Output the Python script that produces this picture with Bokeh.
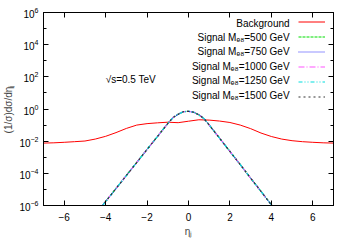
from bokeh.plotting import figure
from bokeh.models import (FixedTicker, LogAxis, LinearAxis, Legend, LegendItem,
                          Label, Range1d, ColumnDataSource)
from bokeh.core.properties import value
from bokeh.embed import file_html
from bokeh.resources import INLINE

# ---- data ----
eta_bkg = [-7.0, -6.5, -6.0, -5.5, -5.0, -4.5, -4.0, -3.5, -3.0, -2.5, -2.0, -1.5, -1.0, -0.5,
           0.0, 0.5, 1.0, 1.5, 2.0, 2.5, 3.0, 3.5, 4.0, 4.5, 5.0, 5.5, 6.0, 6.5, 7.0]
background = [7.6e-3, 7.9e-3, 8.5e-3, 9.3e-3, 1.02e-2, 1.35e-2, 2.0e-2, 3.4e-2, 6.2e-2, 0.100,
              0.123, 0.138, 0.151, 0.141, 0.174, 0.214, 0.204, 0.178, 0.145, 0.100,
              6.0e-2, 3.2e-2, 1.95e-2, 1.35e-2, 1.07e-2, 9.3e-3, 8.5e-3, 7.9e-3, 7.6e-3]

eta_sig = [-4.5, -4.0, -3.5, -3.0, -2.5, -2.0, -1.5, -1.0, -0.75, -0.5, -0.25, 0.0,
           0.25, 0.5, 0.75, 1.0, 1.5, 2.0, 2.5, 3.0, 3.5, 4.0, 4.5]
sig_500 = [2.8e-7, 1.8e-6, 1.15e-5, 7.4e-5, 4.8e-4, 3.1e-3, 1.95e-2, 0.126, 0.295, 0.468, 0.676, 0.724,
           0.631, 0.437, 0.251, 0.102, 1.55e-2, 2.3e-3, 3.5e-4, 5.1e-5, 7.6e-6, 1.12e-6, 1.66e-7]
sig_750 = [2.7e-7, 1.75e-6, 1.13e-5, 7.3e-5, 4.7e-4, 3.05e-3, 1.93e-2, 0.125, 0.294, 0.467, 0.675, 0.722,
           0.630, 0.436, 0.250, 0.101, 1.53e-2, 2.28e-3, 3.45e-4, 5.0e-5, 7.5e-6, 1.1e-6, 1.63e-7]
sig_1000 = [2.75e-7, 1.78e-6, 1.14e-5, 7.35e-5, 4.75e-4, 3.08e-3, 1.94e-2, 0.126, 0.295, 0.468, 0.676, 0.723,
            0.631, 0.437, 0.251, 0.102, 1.54e-2, 2.29e-3, 3.48e-4, 5.05e-5, 7.55e-6, 1.11e-6, 1.65e-7]
sig_1250 = [2.72e-7, 1.77e-6, 1.14e-5, 7.3e-5, 4.72e-4, 3.06e-3, 1.94e-2, 0.125, 0.294, 0.467, 0.675, 0.723,
            0.630, 0.436, 0.250, 0.101, 1.54e-2, 2.29e-3, 3.47e-4, 5.03e-5, 7.52e-6, 1.1e-6, 1.64e-7]
sig_1500 = [2.7e-7, 1.76e-6, 1.13e-5, 7.3e-5, 4.7e-4, 3.05e-3, 1.93e-2, 0.125, 0.294, 0.467, 0.675, 0.722,
            0.630, 0.436, 0.250, 0.101, 1.53e-2, 2.28e-3, 3.46e-4, 5.02e-5, 7.5e-6, 1.1e-6, 1.63e-7]

legend_labels = ["Background",
                 "Signal M\u2091\u2088=500 GeV",
                 "Signal M\u2091\u2088=750 GeV",
                 "Signal M\u2091\u2088=1000 GeV",
                 "Signal M\u2091\u2088=1250 GeV",
                 "Signal M\u2091\u2088=1500 GeV"]
x_ticks = [-6, -4, -2, 0, 2, 4, 6]
y_ticks = [1e-6, 1e-4, 1e-2, 1e0, 1e2, 1e4, 1e6]
y_minor = [1e-5, 1e-3, 1e-1, 1e1, 1e3, 1e5]

FONT = "Liberation Sans"

p = figure(frame_width=290, frame_height=193, x_range=Range1d(-7, 7), y_range=Range1d(1e-6, 1e6),
           y_axis_type="log", output_backend="svg", toolbar_location=None,
           min_border_left=35, min_border_right=9, min_border_top=12, min_border_bottom=32)
p.grid.visible = False
p.outline_line_color = "black"
p.outline_line_width = 1
p.background_fill_color = "white"
p.border_fill_color = "white"

def style_axis(ax, show_labels=True):
    ax.major_tick_in = 5
    ax.major_tick_out = 0
    ax.minor_tick_in = 3
    ax.minor_tick_out = 0
    ax.axis_line_color = "black"
    ax.major_tick_line_color = "black"
    ax.minor_tick_line_color = "black"
    ax.major_label_text_font = FONT
    ax.major_label_text_font_size = "10px" if show_labels else "1px"
    ax.major_label_text_color = "black" if show_labels else None
    ax.axis_label_text_font = FONT
    ax.axis_label_text_font_size = "10px"
    ax.axis_label_text_font_style = "normal"

p.xaxis.ticker = FixedTicker(ticks=x_ticks, minor_ticks=[])
p.yaxis.ticker = FixedTicker(ticks=y_ticks, minor_ticks=y_minor)
for ax in p.xaxis + p.yaxis:
    style_axis(ax)
p.xaxis.axis_label = "\u03b7\u2c7c"
p.yaxis.axis_label = "(1/\u03c3)d\u03c3/d\u03b7\u2c7c"
p.xaxis.major_label_standoff = 7
p.yaxis.major_label_standoff = 5
p.xaxis.axis_label_standoff = 2
p.yaxis.axis_label_standoff = 2

top = LinearAxis(ticker=FixedTicker(ticks=x_ticks, minor_ticks=[]))
style_axis(top, False)
top.major_label_standoff = 0
p.add_layout(top, "above")
right = LogAxis(ticker=FixedTicker(ticks=y_ticks, minor_ticks=y_minor))
style_axis(right, False)
right.major_label_standoff = 0
p.add_layout(right, "right")

src_b = ColumnDataSource(dict(x=eta_bkg, y=background))
r_b = p.line("x", "y", source=src_b, line_color="#ff0000", line_width=1)

sig_series = [sig_500, sig_750, sig_1000, sig_1250, sig_1500]
sig_colors = ["#00dd00", "#2a2aff", "#ff55ff", "#00dddd", "#333333"]
sig_dashes = ["3 1", "1 1", "6 2 1 2", "4 2 1 2 1 2", "2 3"]
renderers = [r_b]
for ys, c, d in zip(sig_series, sig_colors, sig_dashes):
    src = ColumnDataSource(dict(x=eta_sig, y=ys))
    renderers.append(p.line("x", "y", source=src, line_color=c, line_width=1.2, line_dash=d))

legend = Legend(items=[LegendItem(label=value(" "), renderers=[r]) for r in renderers],
                location="top_right", glyph_width=27, glyph_height=15, spacing=0,
                label_standoff=6, label_width=0, label_height=15, padding=0, margin=2,
                border_line_alpha=0, background_fill_alpha=0,
                label_text_font_size="10px", label_text_color=None)
p.add_layout(legend)

# legend texts, right aligned, to the left of the samples
row_y = [2.2e5, 2.8e4, 3.6e3, 4.6e2, 5.9e1, 7.4]
for txt, yy in zip(legend_labels, row_y):
    p.add_layout(Label(x=4.88, y=yy, text=txt, text_align="right", text_baseline="middle",
                       text_font=FONT, text_font_size="10px", text_color="black"))

p.add_layout(Label(x=-4.0, y=70, text="\u221as=0.5 TeV", text_align="left", text_baseline="middle",
                   text_font=FONT, text_font_size="10px", text_color="black"))

open("out.html", "w").write(file_html(p, INLINE))
